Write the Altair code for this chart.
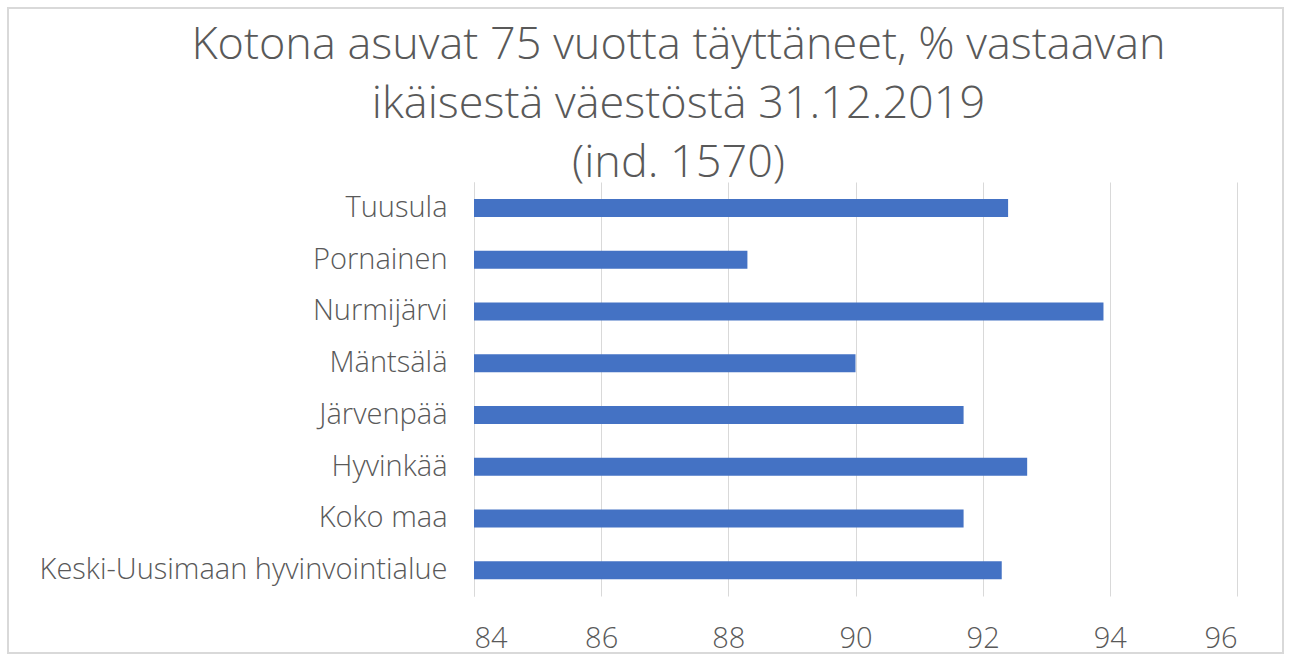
import altair as alt
import pandas as pd

categories = ["Tuusula", "Pornainen", "Nurmijärvi", "Mäntsälä", "Järvenpää",
              "Hyvinkää", "Koko maa", "Keski-Uusimaan hyvinvointialue"]
values = [92.4, 88.3, 93.9, 90.0, 91.7, 92.7, 91.7, 92.3]
x_ticks = [84, 86, 88, 90, 92, 94, 96]
title_lines = ["Kotona asuvat 75 vuotta täyttäneet, % vastaavan",
               "ikäisestä väestöstä 31.12.2019",
               "(ind. 1570)"]

df = pd.DataFrame({"alue": categories, "arvo": values})

W, H = 763, 414
PL, PT = 474, 182

bars = alt.Chart(df).mark_bar(color="#4472C4", size=18).encode(
    x=alt.X("arvo:Q",
            scale=alt.Scale(domain=[84, 96], zero=False, nice=False, clamp=True),
            axis=alt.Axis(values=x_ticks, title=None, grid=True, gridColor="#d9d9d9",
                          domain=False, ticks=False, labelFontSize=29,
                          labelColor="#595959", labelPadding=28,
                          labelFont="Open Sans", labelFontWeight=300)),
    y=alt.Y("alue:N", sort=categories,
            axis=alt.Axis(title=None, domain=True, domainColor="#d9d9d9", ticks=False,
                          labelFontSize=29, labelColor="#595959", labelPadding=27,
                          labelFont="Open Sans", labelFontWeight=300, labelLimit=600)),
)

frame = alt.Chart(df).mark_rect(fill=None, stroke="#d9d9d9", strokeWidth=1.5).encode(
    x=alt.value(8 - PL), x2=alt.value(1283 - PL),
    y=alt.value(8 - PT), y2=alt.value(653 - PT),
)

chart = alt.layer(frame, bars).properties(
    width=W, height=H,
    title=alt.TitleParams(title_lines, anchor="middle", frame="bounds",
                          fontSize=45, font="Open Sans", fontWeight=300,
                          color="#595959", lineHeight=59, offset=0,
                          baseline="bottom", dx=33, dy=224),
    padding={"left": PL, "top": PT, "right": 1291 - PL - W, "bottom": 661 - PT - H},
    autosize=alt.AutoSizeParams(type="none"),
).configure_view(stroke=None)

chart.save("out.html", embed_options={"renderer": "svg", "actions": False})
